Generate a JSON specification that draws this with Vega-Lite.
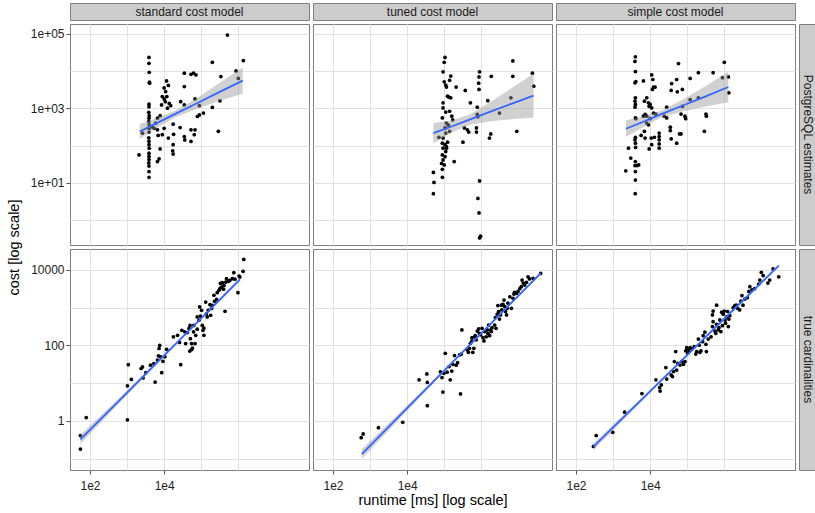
{
  "$schema": "https://vega.github.io/schema/vega-lite/v6.json",
  "background": "white",
  "padding": {"left": 5, "top": 2, "right": 0, "bottom": 2},
  "config": {
    "font": "Liberation Sans",
    "view": {"stroke": "#7f7f7f", "strokeWidth": 1},
    "axis": {"domain": false, "grid": true, "gridColor": "#e2e2e2", "gridWidth": 1, "tickColor": "#555555", "tickSize": 4, "labelFont": "Liberation Sans", "labelFontSize": 12, "labelColor": "#222222", "titleFont": "Liberation Sans", "titleFontSize": 14.5, "titleFontWeight": "normal", "titleColor": "#000000", "labelOverlap": false},
    "axisY": {"labelPadding": 2},
    "text": {"font": "Liberation Sans"}
  },
  "datasets": {
    "std_pg": [
      {"runtime":3900,"cost":23000},{"runtime":3900,"cost":16000},{"runtime":3950,"cost":9200},{"runtime":4000,"cost":5000},{"runtime":4050,"cost":4700},{"runtime":3900,"cost":1280},{"runtime":3900,"cost":1090},{"runtime":3850,"cost":780},{"runtime":3950,"cost":630},{"runtime":3900,"cost":540},{"runtime":3850,"cost":440},{"runtime":3950,"cost":360},{"runtime":3900,"cost":290},{"runtime":3900,"cost":230},{"runtime":3850,"cost":160},{"runtime":3900,"cost":130},{"runtime":3900,"cost":105},{"runtime":3950,"cost":85},{"runtime":3900,"cost":62},{"runtime":3900,"cost":51},{"runtime":3900,"cost":42},{"runtime":3850,"cost":34},{"runtime":3900,"cost":28},{"runtime":3900,"cost":20},{"runtime":3900,"cost":14},
      {"runtime":2100,"cost":56},{"runtime":2600,"cost":214},{"runtime":4800,"cost":316},{"runtime":5400,"cost":290},{"runtime":5900,"cost":398},{"runtime":6600,"cost":263},{"runtime":6900,"cost":186},{"runtime":10000,"cost":3500},{"runtime":11600,"cost":5400},{"runtime":13000,"cost":4100},{"runtime":11000,"cost":2800},{"runtime":8900,"cost":2050},{"runtime":10000,"cost":1780},{"runtime":11800,"cost":2050},{"runtime":8500,"cost":1230},{"runtime":10700,"cost":1500},{"runtime":13700,"cost":1350},{"runtime":12300,"cost":1000},{"runtime":15000,"cost":1170},{"runtime":7800,"cost":630},{"runtime":6600,"cost":540},{"runtime":10000,"cost":290},{"runtime":8900,"cost":195},{"runtime":7800,"cost":81},{"runtime":7300,"cost":44},{"runtime":6600,"cost":37},{"runtime":13000,"cost":158},{"runtime":17500,"cost":372},{"runtime":18000,"cost":200},{"runtime":17500,"cost":105},{"runtime":17000,"cost":72},{"runtime":17500,"cost":59},{"runtime":27000,"cost":302},{"runtime":28000,"cost":1500},{"runtime":35000,"cost":8700},{"runtime":35000,"cost":3800},{"runtime":35000,"cost":1230},{"runtime":35000,"cost":174},{"runtime":36000,"cost":141},{"runtime":53000,"cost":129},{"runtime":53000,"cost":8100},{"runtime":62000,"cost":8700},{"runtime":72000,"cost":7800},{"runtime":68000,"cost":1780},{"runtime":89000,"cost":1170},{"runtime":79000,"cost":600},{"runtime":89000,"cost":660},{"runtime":115000,"cost":740},{"runtime":53000,"cost":263},{"runtime":68000,"cost":263},{"runtime":65000,"cost":195},{"runtime":200000,"cost":17000},{"runtime":200000,"cost":1050},{"runtime":320000,"cost":1580},{"runtime":340000,"cost":7100},{"runtime":510000,"cost":92000},{"runtime":870000,"cost":10000},{"runtime":1000000,"cost":6300},{"runtime":1370000,"cost":19000},{"runtime":290000,"cost":240}
    ],
    "std_pg_fit": [
      {"runtime":2190,"fit":237,"lower":150,"upper":376},{"runtime":6310,"fit":398,"lower":295,"upper":537},{"runtime":19950,"fit":708,"lower":575,"upper":871},{"runtime":79430,"fit":1380,"lower":991,"upper":1923},{"runtime":316200,"fit":2750,"lower":1578,"upper":4810},{"runtime":1318000,"fit":5500,"lower":2455,"upper":12300}
    ],
    "tuned_pg": [
      {"runtime":105000,"cost":23000},{"runtime":100000,"cost":17000},{"runtime":93000,"cost":9500},{"runtime":100000,"cost":5100},{"runtime":110000,"cost":4200},{"runtime":115000,"cost":3700},{"runtime":150000,"cost":7300},{"runtime":140000,"cost":5600},{"runtime":123000,"cost":2100},{"runtime":133000,"cost":2000},{"runtime":150000,"cost":1900},{"runtime":93000,"cost":1400},{"runtime":93000,"cost":1020},{"runtime":110000,"cost":790},{"runtime":140000,"cost":830},{"runtime":160000,"cost":610},{"runtime":89000,"cost":550},{"runtime":115000,"cost":400},{"runtime":130000,"cost":350},{"runtime":105000,"cost":295},{"runtime":110000,"cost":215},{"runtime":140000,"cost":240},{"runtime":170000,"cost":490},{"runtime":93000,"cost":158},{"runtime":89000,"cost":115},{"runtime":105000,"cost":105},{"runtime":115000,"cost":93},{"runtime":93000,"cost":85},{"runtime":110000,"cost":69},{"runtime":89000,"cost":56},{"runtime":105000,"cost":50},{"runtime":93000,"cost":41},{"runtime":85000,"cost":33},{"runtime":100000,"cost":30},{"runtime":89000,"cost":23},{"runtime":89000,"cost":14},{"runtime":115000,"cost":85},{"runtime":123000,"cost":123},{"runtime":186000,"cost":37},{"runtime":72000,"cost":166},{"runtime":51000,"cost":19},{"runtime":53000,"cost":10.2},{"runtime":51000,"cost":5.1},{"runtime":210000,"cost":3700},{"runtime":370000,"cost":3000},{"runtime":320000,"cost":123},{"runtime":900000,"cost":9500},{"runtime":870000,"cost":6900},{"runtime":850000,"cost":4700},{"runtime":870000,"cost":3200},{"runtime":780000,"cost":1070},{"runtime":780000,"cost":680},{"runtime":740000,"cost":295},{"runtime":740000,"cost":230},{"runtime":810000,"cost":590},{"runtime":900000,"cost":11.2},{"runtime":810000,"cost":3.8},{"runtime":870000,"cost":1.55},{"runtime":960000,"cost":0.37},{"runtime":900000,"cost":0.33},{"runtime":510000,"cost":1400},{"runtime":420000,"cost":263},{"runtime":460000,"cost":230},{"runtime":350000,"cost":295},{"runtime":1500000,"cost":1600},{"runtime":1860000,"cost":7200},{"runtime":7100000,"cost":18600},{"runtime":7100000,"cost":7200},{"runtime":6300000,"cost":1900},{"runtime":3100000,"cost":740},{"runtime":1800000,"cost":205},{"runtime":1660000,"cost":158},{"runtime":9100000,"cost":240},{"runtime":24000000,"cost":8700},{"runtime":26000000,"cost":3900}
    ],
    "tuned_pg_fit": [
      {"runtime":51300,"fit":214,"lower":115,"upper":398},{"runtime":158500,"fit":324,"lower":224,"upper":468},{"runtime":501200,"fit":501,"lower":363,"upper":692},{"runtime":1995000,"fit":851,"lower":457,"upper":1585},{"runtime":7943000,"fit":1413,"lower":513,"upper":3890},{"runtime":25700000,"fit":2188,"lower":562,"upper":8510}
    ],
    "simple_pg": [
      {"runtime":4000,"cost":24000},{"runtime":3900,"cost":18000},{"runtime":4000,"cost":9600},{"runtime":4100,"cost":5200},{"runtime":3900,"cost":4800},{"runtime":4000,"cost":1900},{"runtime":3900,"cost":1550},{"runtime":4000,"cost":1260},{"runtime":3900,"cost":1070},{"runtime":4000,"cost":550},{"runtime":4100,"cost":525},{"runtime":4000,"cost":166},{"runtime":3900,"cost":142},{"runtime":4000,"cost":115},{"runtime":4050,"cost":89},{"runtime":4000,"cost":37},{"runtime":3900,"cost":29},{"runtime":4000,"cost":20},{"runtime":4000,"cost":11.8},{"runtime":3950,"cost":5.1},
      {"runtime":2200,"cost":21},{"runtime":2600,"cost":85},{"runtime":3000,"cost":46},{"runtime":4900,"cost":30},{"runtime":4400,"cost":29},{"runtime":6600,"cost":5400},{"runtime":11000,"cost":7800},{"runtime":11800,"cost":5900},{"runtime":12300,"cost":3700},{"runtime":13600,"cost":3700},{"runtime":11500,"cost":3200},{"runtime":7000,"cost":1550},{"runtime":8100,"cost":1900},{"runtime":9000,"cost":1400},{"runtime":10000,"cost":1260},{"runtime":11000,"cost":1020},{"runtime":9400,"cost":1130},{"runtime":7300,"cost":680},{"runtime":6600,"cost":610},{"runtime":8100,"cost":610},{"runtime":10000,"cost":525},{"runtime":12300,"cost":740},{"runtime":14200,"cost":700},{"runtime":9000,"cost":360},{"runtime":8100,"cost":400},{"runtime":7000,"cost":240},{"runtime":5700,"cost":186},{"runtime":7300,"cost":158},{"runtime":10700,"cost":158},{"runtime":13000,"cost":166},{"runtime":11000,"cost":105},{"runtime":9400,"cost":81},{"runtime":17500,"cost":215},{"runtime":17500,"cost":174},{"runtime":17500,"cost":142},{"runtime":17500,"cost":110},{"runtime":17500,"cost":85},{"runtime":24000,"cost":610},{"runtime":28000,"cost":1070},{"runtime":28000,"cost":550},{"runtime":35000,"cost":310},{"runtime":35000,"cost":251},{"runtime":37000,"cost":151},{"runtime":38000,"cost":4600},{"runtime":37000,"cost":3000},{"runtime":52000,"cost":5900},{"runtime":58000,"cost":15800},{"runtime":54000,"cost":2750},{"runtime":74000,"cost":3200},{"runtime":74000,"cost":1130},{"runtime":68000,"cost":700},{"runtime":87000,"cost":610},{"runtime":91000,"cost":525},{"runtime":62000,"cost":205},{"runtime":68000,"cost":205},{"runtime":52000,"cost":115},{"runtime":120000,"cost":6300},{"runtime":120000,"cost":1700},{"runtime":200000,"cost":9000},{"runtime":200000,"cost":1900},{"runtime":320000,"cost":700},{"runtime":330000,"cost":610},{"runtime":290000,"cost":240},{"runtime":500000,"cost":9000},{"runtime":890000,"cost":6600},{"runtime":1000000,"cost":17000},{"runtime":1290000,"cost":6900},{"runtime":1330000,"cost":2600}
    ],
    "simple_pg_fit": [
      {"runtime":2213,"fit":282,"lower":168,"upper":473},{"runtime":6310,"fit":427,"lower":309,"upper":589},{"runtime":19950,"fit":692,"lower":562,"upper":851},{"runtime":79430,"fit":1202,"lower":836,"upper":1730},{"runtime":316200,"fit":2089,"lower":1109,"upper":3936},{"runtime":1288000,"fit":3715,"lower":1445,"upper":9550}
    ],
    "std_true": [
      {"runtime":55,"cost":0.18},{"runtime":55,"cost":0.41},{"runtime":79,"cost":1.23},{"runtime":1020,"cost":1.07},{"runtime":1020,"cost":8.5},{"runtime":1080,"cost":31},{"runtime":1300,"cost":12.6},{"runtime":2400,"cost":24.5},{"runtime":2600,"cost":27},{"runtime":2700,"cost":13.8},{"runtime":3200,"cost":19},{"runtime":4300,"cost":30},{"runtime":5300,"cost":33},{"runtime":5700,"cost":10.7},{"runtime":6600,"cost":41},{"runtime":7000,"cost":53},{"runtime":7300,"cost":83},{"runtime":7600,"cost":100},{"runtime":8100,"cost":50},{"runtime":8600,"cost":19},{"runtime":9300,"cost":38},{"runtime":10500,"cost":50},{"runtime":11700,"cost":79},{"runtime":17800,"cost":170},{"runtime":23000,"cost":186},{"runtime":26000,"cost":120},{"runtime":28000,"cost":31},{"runtime":30000,"cost":251},{"runtime":38000,"cost":112},{"runtime":36000,"cost":229},{"runtime":42000,"cost":219},{"runtime":47000,"cost":282},{"runtime":50000,"cost":339},{"runtime":51000,"cost":151},{"runtime":55000,"cost":112},{"runtime":58000,"cost":85},{"runtime":49000,"cost":71},{"runtime":55000,"cost":78},{"runtime":62000,"cost":229},{"runtime":63000,"cost":339},{"runtime":71000,"cost":186},{"runtime":68000,"cost":112},{"runtime":78000,"cost":569},{"runtime":87000,"cost":468},{"runtime":78000,"cost":269},{"runtime":91000,"cost":1050},{"runtime":102000,"cost":851},{"runtime":95000,"cost":603},{"runtime":107000,"cost":339},{"runtime":112000,"cost":251},{"runtime":118000,"cost":186},{"runtime":118000,"cost":288},{"runtime":132000,"cost":1410},{"runtime":138000,"cost":692},{"runtime":145000,"cost":569},{"runtime":155000,"cost":851},{"runtime":172000,"cost":1200},{"runtime":180000,"cost":631},{"runtime":190000,"cost":955},{"runtime":200000,"cost":1150},{"runtime":220000,"cost":2140},{"runtime":230000,"cost":1480},{"runtime":260000,"cost":1660},{"runtime":270000,"cost":2500},{"runtime":300000,"cost":2900},{"runtime":320000,"cost":3200},{"runtime":330000,"cost":4400},{"runtime":350000,"cost":3500},{"runtime":370000,"cost":4600},{"runtime":400000,"cost":3100},{"runtime":440000,"cost":803},{"runtime":410000,"cost":3900},{"runtime":460000,"cost":4800},{"runtime":480000,"cost":5900},{"runtime":540000,"cost":5000},{"runtime":590000,"cost":5300},{"runtime":690000,"cost":5900},{"runtime":760000,"cost":8500},{"runtime":810000,"cost":5700},{"runtime":980000,"cost":2500},{"runtime":1050000,"cost":6900},{"runtime":1100000,"cost":6500},{"runtime":1350000,"cost":9200},{"runtime":1410000,"cost":19000}
    ],
    "std_true_fit": [
      {"runtime":55,"fit":0.324,"lower":0.245,"upper":0.427},{"runtime":631,"fit":3.55,"lower":3.02,"upper":4.17},{"runtime":7943,"fit":43.2,"lower":39.4,"upper":47.3},{"runtime":100000,"fit":525,"lower":490,"upper":562},{"runtime":1109000,"fit":5623,"lower":5012,"upper":6310}
    ],
    "tuned_true": [
      {"runtime":575,"cost":0.36},{"runtime":650,"cost":0.45},{"runtime":1680,"cost":0.66},{"runtime":7600,"cost":0.92},{"runtime":21000,"cost":12.3},{"runtime":34000,"cost":17.6},{"runtime":35000,"cost":10.5},{"runtime":35000,"cost":2.54},{"runtime":79000,"cost":20},{"runtime":87000,"cost":14.1},{"runtime":92000,"cost":5.8},{"runtime":107000,"cost":62},{"runtime":98000,"cost":18.2},{"runtime":120000,"cost":19.5},{"runtime":135000,"cost":27.5},{"runtime":145000,"cost":12.3},{"runtime":160000,"cost":21},{"runtime":170000,"cost":31.6},{"runtime":190000,"cost":54},{"runtime":210000,"cost":30},{"runtime":230000,"cost":35},{"runtime":260000,"cost":56},{"runtime":275000,"cost":5.2},{"runtime":300000,"cost":257},{"runtime":290000,"cost":59},{"runtime":420000,"cost":76},{"runtime":450000,"cost":66},{"runtime":480000,"cost":84},{"runtime":510000,"cost":114},{"runtime":560000,"cost":132},{"runtime":590000,"cost":66},{"runtime":560000,"cost":162},{"runtime":630000,"cost":84},{"runtime":660000,"cost":170},{"runtime":690000,"cost":182},{"runtime":730000,"cost":141},{"runtime":780000,"cost":240},{"runtime":850000,"cost":275},{"runtime":900000,"cost":209},{"runtime":960000,"cost":191},{"runtime":1050000,"cost":285},{"runtime":1110000,"cost":162},{"runtime":1180000,"cost":132},{"runtime":1230000,"cost":234},{"runtime":1360000,"cost":170},{"runtime":1450000,"cost":257},{"runtime":1510000,"cost":209},{"runtime":1580000,"cost":347},{"runtime":1680000,"cost":182},{"runtime":1800000,"cost":257},{"runtime":1860000,"cost":234},{"runtime":1950000,"cost":295},{"runtime":2300000,"cost":347},{"runtime":2400000,"cost":550},{"runtime":2500000,"cost":285},{"runtime":2700000,"cost":676},{"runtime":2800000,"cost":1140},{"runtime":2950000,"cost":794},{"runtime":3100000,"cost":501},{"runtime":3300000,"cost":646},{"runtime":3500000,"cost":1170},{"runtime":3600000,"cost":871},{"runtime":3850000,"cost":1230},{"runtime":4100000,"cost":1600},{"runtime":4300000,"cost":1070},{"runtime":4500000,"cost":794},{"runtime":4800000,"cost":646},{"runtime":5000000,"cost":966},{"runtime":5250000,"cost":1320},{"runtime":5900000,"cost":1950},{"runtime":6500000,"cost":966},{"runtime":7200000,"cost":1780},{"runtime":7600000,"cost":2300},{"runtime":7900000,"cost":2570},{"runtime":8900000,"cost":2400},{"runtime":9800000,"cost":2700},{"runtime":11000000,"cost":3200},{"runtime":12000000,"cost":3600},{"runtime":12600000,"cost":5400},{"runtime":13500000,"cost":4500},{"runtime":14800000,"cost":4000},{"runtime":16600000,"cost":4700},{"runtime":18200000,"cost":6600},{"runtime":20000000,"cost":5800},{"runtime":25000000,"cost":6000},{"runtime":40000000,"cost":8100}
    ],
    "tuned_true_fit": [
      {"runtime":596,"fit":0.132,"lower":0.0977,"upper":0.178},{"runtime":10000,"fit":2.19,"lower":1.86,"upper":2.57},{"runtime":158500,"fit":33.9,"lower":31.6,"upper":36.3},{"runtime":2512000,"fit":525,"lower":495,"upper":556},{"runtime":39810000,"fit":8128,"lower":7413,"upper":8913}
    ],
    "simple_true": [
      {"runtime":295,"cost":0.21},{"runtime":350,"cost":0.41},{"runtime":980,"cost":0.5},{"runtime":2050,"cost":1.7},{"runtime":6000,"cost":5.3},{"runtime":14300,"cost":12.3},{"runtime":18000,"cost":7.6},{"runtime":18600,"cost":6.2},{"runtime":20000,"cost":9.0},{"runtime":26500,"cost":25.9},{"runtime":28000,"cost":12.9},{"runtime":37000,"cost":16.5},{"runtime":40000,"cost":15},{"runtime":43000,"cost":20.4},{"runtime":45000,"cost":37.5},{"runtime":49000,"cost":69},{"runtime":52000,"cost":22.3},{"runtime":56000,"cost":33.5},{"runtime":64000,"cost":30.3},{"runtime":71000,"cost":37.5},{"runtime":79000,"cost":31.6},{"runtime":87000,"cost":37.5},{"runtime":91000,"cost":72},{"runtime":97000,"cost":87},{"runtime":103000,"cost":62},{"runtime":107000,"cost":81},{"runtime":112000,"cost":69},{"runtime":120000,"cost":87},{"runtime":132000,"cost":81},{"runtime":155000,"cost":93},{"runtime":170000,"cost":59},{"runtime":180000,"cost":69},{"runtime":200000,"cost":148},{"runtime":210000,"cost":102},{"runtime":220000,"cost":66},{"runtime":235000,"cost":72},{"runtime":260000,"cost":126},{"runtime":270000,"cost":182},{"runtime":300000,"cost":224},{"runtime":320000,"cost":107},{"runtime":330000,"cost":69},{"runtime":370000,"cost":148},{"runtime":440000,"cost":170},{"runtime":480000,"cost":316},{"runtime":480000,"cost":646},{"runtime":500000,"cost":427},{"runtime":500000,"cost":813},{"runtime":560000,"cost":240},{"runtime":590000,"cost":209},{"runtime":620000,"cost":1170},{"runtime":620000,"cost":363},{"runtime":690000,"cost":257},{"runtime":720000,"cost":295},{"runtime":760000,"cost":473},{"runtime":810000,"cost":234},{"runtime":850000,"cost":759},{"runtime":890000,"cost":335},{"runtime":940000,"cost":676},{"runtime":1000000,"cost":813},{"runtime":1050000,"cost":473},{"runtime":1080000,"cost":389},{"runtime":1150000,"cost":575},{"runtime":1230000,"cost":794},{"runtime":1290000,"cost":316},{"runtime":1330000,"cost":501},{"runtime":1410000,"cost":617},{"runtime":1740000,"cost":1000},{"runtime":1930000,"cost":1140},{"runtime":2100000,"cost":1170},{"runtime":2300000,"cost":966},{"runtime":2600000,"cost":871},{"runtime":2800000,"cost":1500},{"runtime":3000000,"cost":2100},{"runtime":3200000,"cost":1170},{"runtime":3600000,"cost":1700},{"runtime":4200000,"cost":1860},{"runtime":4600000,"cost":2700},{"runtime":4900000,"cost":3600},{"runtime":5600000,"cost":2950},{"runtime":6600000,"cost":3200},{"runtime":8500000,"cost":4200},{"runtime":9100000,"cost":5400},{"runtime":10000000,"cost":8700},{"runtime":11200000,"cost":7100},{"runtime":15000000,"cost":4500},{"runtime":16800000,"cost":5400},{"runtime":20700000,"cost":10700},{"runtime":29500000,"cost":6600}
    ],
    "simple_true_fit": [
      {"runtime":295,"fit":0.209,"lower":0.17,"upper":0.257},{"runtime":5012,"fit":3.16,"lower":2.82,"upper":3.55},{"runtime":89130,"fit":50.1,"lower":47.3,"upper":53.1},{"runtime":1585000,"fit":794,"lower":750,"upper":841},{"runtime":29510000,"fit":13030,"lower":11890,"upper":14290}
    ]
  },
  "bounds": "flush",
  "columns": 4,
  "spacing": {"row": 4, "column": 4},
  "concat": [
    {"width": 239, "height": 17, "view": {"fill": "#cccccc", "stroke": "#7f7f7f"}, "data": {"values": [{"label": "standard cost model"}]}, "mark": {"type": "text", "fontSize": 12, "color": "#1a1a1a"}, "encoding": {"text": {"field": "label"}}},
    {"width": 239, "height": 17, "view": {"fill": "#cccccc", "stroke": "#7f7f7f"}, "data": {"values": [{"label": "tuned cost model"}]}, "mark": {"type": "text", "fontSize": 12, "color": "#1a1a1a"}, "encoding": {"text": {"field": "label"}}},
    {"width": 239, "height": 17, "view": {"fill": "#cccccc", "stroke": "#7f7f7f"}, "data": {"values": [{"label": "simple cost model"}]}, "mark": {"type": "text", "fontSize": 12, "color": "#1a1a1a"}, "encoding": {"text": {"field": "label"}}},
    {"width": 17, "height": 17, "view": {"stroke": null}, "data": {"values": []}, "mark": {"type": "text"}, "encoding": {}},

    {"width": 239, "height": 221, "layer": [
      {"data": {"name": "std_pg"}, "mark": {"type": "point", "filled": true, "size": 14, "color": "black", "opacity": 1},
       "encoding": {
         "x": {"field": "runtime", "type": "quantitative", "scale": {"type": "log", "domain": [28.8, 81000000], "nice": false}, "axis": {"values": [100, 1000, 10000, 100000, 1000000], "labels": false, "ticks": false, "title": null}},
         "y": {"field": "cost", "type": "quantitative", "scale": {"type": "log", "domain": [0.214, 182000], "nice": false}, "axis": {"values": [1, 10, 100, 1000, 10000, 100000], "labelPadding": 2, "labelExpr": "datum.value == 10 ? '1e+01' : datum.value == 1000 ? '1e+03' : datum.value == 100000 ? '1e+05' : ''", "tickOpacity": {"condition": {"test": "datum.value == 10 || datum.value == 1000 || datum.value == 100000", "value": 1}, "value": 0}, "title": "cost [log scale]", "titleY": 223, "titlePadding": 9}}}},
      {"data": {"name": "std_pg_fit"}, "mark": {"type": "area", "color": "#999999", "opacity": 0.45}, "encoding": {"x": {"field": "runtime", "type": "quantitative"}, "y": {"field": "lower", "type": "quantitative"}, "y2": {"field": "upper"}}},
      {"data": {"name": "std_pg_fit"}, "mark": {"type": "line", "color": "#3366FF", "strokeWidth": 1.8}, "encoding": {"x": {"field": "runtime", "type": "quantitative"}, "y": {"field": "fit", "type": "quantitative"}}}
    ]},
    {"width": 239, "height": 221, "layer": [
      {"data": {"name": "tuned_pg"}, "mark": {"type": "point", "filled": true, "size": 14, "color": "black", "opacity": 1},
       "encoding": {
         "x": {"field": "runtime", "type": "quantitative", "scale": {"type": "log", "domain": [28.8, 81000000], "nice": false}, "axis": {"values": [100, 1000, 10000, 100000, 1000000], "labels": false, "ticks": false, "title": null}},
         "y": {"field": "cost", "type": "quantitative", "scale": {"type": "log", "domain": [0.214, 182000], "nice": false}, "axis": {"values": [1, 10, 100, 1000, 10000, 100000], "labels": false, "ticks": false, "title": null}}}},
      {"data": {"name": "tuned_pg_fit"}, "mark": {"type": "area", "color": "#999999", "opacity": 0.45}, "encoding": {"x": {"field": "runtime", "type": "quantitative"}, "y": {"field": "lower", "type": "quantitative"}, "y2": {"field": "upper"}}},
      {"data": {"name": "tuned_pg_fit"}, "mark": {"type": "line", "color": "#3366FF", "strokeWidth": 1.8}, "encoding": {"x": {"field": "runtime", "type": "quantitative"}, "y": {"field": "fit", "type": "quantitative"}}}
    ]},
    {"width": 239, "height": 221, "layer": [
      {"data": {"name": "simple_pg"}, "mark": {"type": "point", "filled": true, "size": 14, "color": "black", "opacity": 1},
       "encoding": {
         "x": {"field": "runtime", "type": "quantitative", "scale": {"type": "log", "domain": [28.8, 81000000], "nice": false}, "axis": {"values": [100, 1000, 10000, 100000, 1000000], "labels": false, "ticks": false, "title": null}},
         "y": {"field": "cost", "type": "quantitative", "scale": {"type": "log", "domain": [0.214, 182000], "nice": false}, "axis": {"values": [1, 10, 100, 1000, 10000, 100000], "labels": false, "ticks": false, "title": null}}}},
      {"data": {"name": "simple_pg_fit"}, "mark": {"type": "area", "color": "#999999", "opacity": 0.45}, "encoding": {"x": {"field": "runtime", "type": "quantitative"}, "y": {"field": "lower", "type": "quantitative"}, "y2": {"field": "upper"}}},
      {"data": {"name": "simple_pg_fit"}, "mark": {"type": "line", "color": "#3366FF", "strokeWidth": 1.8}, "encoding": {"x": {"field": "runtime", "type": "quantitative"}, "y": {"field": "fit", "type": "quantitative"}}}
    ]},
    {"width": 17, "height": 221, "view": {"fill": "#cccccc", "stroke": "#7f7f7f"}, "data": {"values": [{"label": "PostgreSQL estimates"}]}, "mark": {"type": "text", "fontSize": 12, "angle": 90, "color": "#1a1a1a"}, "encoding": {"text": {"field": "label"}}},

    {"width": 239, "height": 221, "layer": [
      {"data": {"name": "std_true"}, "mark": {"type": "point", "filled": true, "size": 14, "color": "black", "opacity": 1},
       "encoding": {
         "x": {"field": "runtime", "type": "quantitative", "scale": {"type": "log", "domain": [28.8, 81000000], "nice": false}, "axis": {"values": [100, 1000, 10000, 100000, 1000000], "labelPadding": 6, "labelExpr": "datum.value == 100 ? '1e2' : datum.value == 10000 ? '1e4' : ''", "tickOpacity": {"condition": {"test": "datum.value == 100 || datum.value == 10000", "value": 1}, "value": 0}, "title": null}},
         "y": {"field": "cost", "type": "quantitative", "scale": {"type": "log", "domain": [0.05, 36000], "nice": false}, "axis": {"values": [0.1, 1, 10, 100, 1000, 10000], "labelPadding": 2, "labelExpr": "datum.value == 1 ? '1' : datum.value == 100 ? '100' : datum.value == 10000 ? '10000' : ''", "tickOpacity": {"condition": {"test": "datum.value == 1 || datum.value == 100 || datum.value == 10000", "value": 1}, "value": 0}, "title": null}}}},
      {"data": {"name": "std_true_fit"}, "mark": {"type": "area", "color": "#999999", "opacity": 0.45}, "encoding": {"x": {"field": "runtime", "type": "quantitative"}, "y": {"field": "lower", "type": "quantitative"}, "y2": {"field": "upper"}}},
      {"data": {"name": "std_true_fit"}, "mark": {"type": "line", "color": "#3366FF", "strokeWidth": 1.8}, "encoding": {"x": {"field": "runtime", "type": "quantitative"}, "y": {"field": "fit", "type": "quantitative"}}}
    ]},
    {"width": 239, "height": 221, "layer": [
      {"data": {"name": "tuned_true"}, "mark": {"type": "point", "filled": true, "size": 14, "color": "black", "opacity": 1},
       "encoding": {
         "x": {"field": "runtime", "type": "quantitative", "scale": {"type": "log", "domain": [28.8, 81000000], "nice": false}, "axis": {"values": [100, 1000, 10000, 100000, 1000000], "labelPadding": 6, "labelExpr": "datum.value == 100 ? '1e2' : datum.value == 10000 ? '1e4' : ''", "tickOpacity": {"condition": {"test": "datum.value == 100 || datum.value == 10000", "value": 1}, "value": 0}, "title": "runtime [ms] [log scale]", "titlePadding": 2}},
         "y": {"field": "cost", "type": "quantitative", "scale": {"type": "log", "domain": [0.05, 36000], "nice": false}, "axis": {"values": [0.1, 1, 10, 100, 1000, 10000], "labels": false, "ticks": false, "title": null}}}},
      {"data": {"name": "tuned_true_fit"}, "mark": {"type": "area", "color": "#999999", "opacity": 0.45}, "encoding": {"x": {"field": "runtime", "type": "quantitative"}, "y": {"field": "lower", "type": "quantitative"}, "y2": {"field": "upper"}}},
      {"data": {"name": "tuned_true_fit"}, "mark": {"type": "line", "color": "#3366FF", "strokeWidth": 1.8}, "encoding": {"x": {"field": "runtime", "type": "quantitative"}, "y": {"field": "fit", "type": "quantitative"}}}
    ]},
    {"width": 239, "height": 221, "layer": [
      {"data": {"name": "simple_true"}, "mark": {"type": "point", "filled": true, "size": 14, "color": "black", "opacity": 1},
       "encoding": {
         "x": {"field": "runtime", "type": "quantitative", "scale": {"type": "log", "domain": [28.8, 81000000], "nice": false}, "axis": {"values": [100, 1000, 10000, 100000, 1000000], "labelPadding": 6, "labelExpr": "datum.value == 100 ? '1e2' : datum.value == 10000 ? '1e4' : ''", "tickOpacity": {"condition": {"test": "datum.value == 100 || datum.value == 10000", "value": 1}, "value": 0}, "title": null}},
         "y": {"field": "cost", "type": "quantitative", "scale": {"type": "log", "domain": [0.05, 36000], "nice": false}, "axis": {"values": [0.1, 1, 10, 100, 1000, 10000], "labels": false, "ticks": false, "title": null}}}},
      {"data": {"name": "simple_true_fit"}, "mark": {"type": "area", "color": "#999999", "opacity": 0.45}, "encoding": {"x": {"field": "runtime", "type": "quantitative"}, "y": {"field": "lower", "type": "quantitative"}, "y2": {"field": "upper"}}},
      {"data": {"name": "simple_true_fit"}, "mark": {"type": "line", "color": "#3366FF", "strokeWidth": 1.8}, "encoding": {"x": {"field": "runtime", "type": "quantitative"}, "y": {"field": "fit", "type": "quantitative"}}}
    ]},
    {"width": 17, "height": 221, "view": {"fill": "#cccccc", "stroke": "#7f7f7f"}, "data": {"values": [{"label": "true cardinalities"}]}, "mark": {"type": "text", "fontSize": 12, "angle": 90, "color": "#1a1a1a"}, "encoding": {"text": {"field": "label"}}}
  ]
}
